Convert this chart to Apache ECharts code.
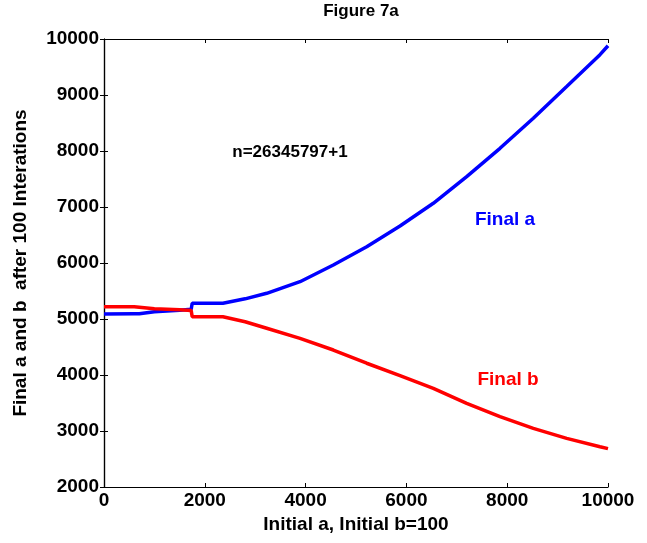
<!DOCTYPE html>
<html>
<head>
<meta charset="utf-8">
<script src="https://cdn.jsdelivr.net/npm/echarts@6/dist/echarts.min.js"></script>
<style>
  html, body { margin: 0; padding: 0; background: #fff; }
  #chart { width: 647px; height: 543px; }
</style>
</head>
<body>
<div id="chart"></div>
<script>
// Final a (blue)
var aX = [0, 600, 700, 720, 1000, 1500, 1730, 1750, 2360, 2800, 3228, 3889, 4550, 5212, 5873, 6534, 7196, 7857, 8518, 9180, 9841, 10000];
var aY = [5090, 5095, 5095, 5120, 5130, 5155, 5175, 5280, 5280, 5360, 5459, 5666, 5964, 6291, 6660, 7066, 7541, 8048, 8584, 9150, 9720, 9880];

// Final b (red)
var bX = [0, 600, 620, 1000, 1500, 1730, 1750, 2360, 2800, 3228, 3889, 4550, 5212, 5873, 6534, 7196, 7857, 8518, 9180, 9841, 10000];
var bY = [5220, 5220, 5196, 5185, 5165, 5150, 5040, 5040, 4950, 4834, 4655, 4446, 4210, 3990, 3762, 3494, 3255, 3048, 2869, 2720, 2685];

// text notes placed in data coordinates
var notes = [
  { text: 'n=26345797+1', x: 3690, y: 7982, color: '#000000', size: 17 },
  { text: 'Final a', x: 7956, y: 6768, color: '#0000ff', size: 19 },
  { text: 'Final b', x: 8016, y: 3911, color: '#ff0000', size: 19 }
];

function pairs(xs, ys) {
  return xs.map(function (x, i) { return [x, ys[i]]; });
}

var font = 'Liberation Sans, Arial, sans-serif';
var myChart = echarts.init(document.getElementById('chart'));

var axisLine = { show: true, lineStyle: { color: '#000', width: 1.2 } };
var tick = { show: true, inside: true, length: 4, lineStyle: { color: '#000' } };
var lbl = { fontFamily: font, fontWeight: 'bold', fontSize: 19, color: '#000' };
var plain = function (v) { return String(v); };

var option = {
  animation: false,
  backgroundColor: '#fff',
  title: {
    text: 'Figure 7a',
    left: 356,
    textAlign: 'center',
    top: -2,
    textStyle: { fontFamily: font, fontWeight: 'bold', fontSize: 17, color: '#000' }
  },
  grid: { left: 104, right: 39, top: 39, bottom: 56 },
  xAxis: [{
    type: 'value', min: 0, max: 10000, interval: 2000,
    position: 'bottom',
    name: 'Initial a, Initial b=100', nameLocation: 'middle', nameGap: 22,
    nameTextStyle: lbl,
    axisLine: axisLine, axisTick: tick, splitLine: { show: false },
    axisLabel: Object.assign({ margin: 4, formatter: plain }, lbl)
  }, {
    type: 'value', min: 0, max: 10000, interval: 2000,
    position: 'top',
    axisLine: axisLine, axisTick: tick, splitLine: { show: false },
    axisLabel: { show: false }
  }],
  yAxis: [{
    type: 'value', min: 2000, max: 10000, interval: 1000,
    position: 'left',
    name: 'Final a and b  after 100 Interations', nameLocation: 'middle', nameGap: 74,
    nameTextStyle: lbl,
    axisLine: axisLine, axisTick: tick, splitLine: { show: false },
    axisLabel: Object.assign({ margin: 5, formatter: plain }, lbl)
  }, {
    type: 'value', min: 2000, max: 10000, interval: 1000,
    position: 'right',
    axisLine: axisLine, axisTick: tick, splitLine: { show: false },
    axisLabel: { show: false }
  }],
  series: [{
    name: 'Final a', type: 'line', showSymbol: false,
    data: pairs(aX, aY),
    lineStyle: { color: '#0000ff', width: 3.5 }
  }, {
    name: 'Final b', type: 'line', showSymbol: false,
    data: pairs(bX, bY),
    lineStyle: { color: '#ff0000', width: 3.5 }
  }, {
    type: 'scatter', symbolSize: 0, silent: true,
    itemStyle: { opacity: 1 },
    data: notes.map(function (n) {
      return {
        value: [n.x, n.y],
        label: {
          show: true, position: 'inside', formatter: n.text,
          fontFamily: font, fontWeight: 'bold', fontSize: n.size, color: n.color
        }
      };
    })
  }]
};

myChart.setOption(option);
</script>
</body>
</html>
